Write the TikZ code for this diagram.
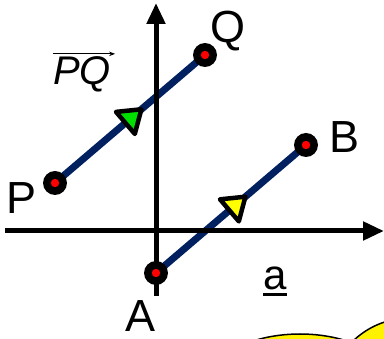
\documentclass[tikz,border=0pt]{standalone}
\usepackage{fontspec}
\setmainfont{Liberation Sans}
\usetikzlibrary{arrows.meta,backgrounds,calc}
\definecolor{navy}{HTML}{002060}
\definecolor{headgreen}{HTML}{00E000}
\definecolor{headyellow}{HTML}{FFFF00}
\tikzset{
  dot/.style={circle,fill=black,minimum size=24pt,inner sep=0pt,
    path picture={\fill[red] (path picture bounding box.center) circle (4.2pt);}},
  vec/.style={navy,line width=7pt},
  axis/.style={line width=5pt,-{Triangle[length=21pt,width=18pt]}},
  lbl/.style={inner sep=0pt,anchor=base,font=\fontsize{45}{45}\selectfont},
  headtri/.style={draw=black,line width=4.5pt,line join=round},
}
\begin{document}
\begin{tikzpicture}[x=1pt,y=-1pt]
\useasboundingbox (0,0) rectangle (384,339);
\clip (0,0) rectangle (384,339);
% bottom yellow shapes
\draw[fill=yellow,line width=1.5pt] (300,394) ellipse [x radius=100, y radius=60];
\draw[fill=yellow,line width=1.5pt] (410,400) circle (82);
% axes
\coordinate (xl) at (5,231);
\coordinate (xr) at (384,231);
\coordinate (yb) at (156,296);
\coordinate (yt) at (156,3);
\draw[axis] (xl) -- (xr);
\draw[axis] (yb) -- (yt);
% points
\node[dot] (P) at (55,183) {};
\node[dot] (Q) at (205,55) {};
\node[dot] (A) at (156,273) {};
\node[dot] (B) at (306,145) {};
\begin{scope}[on background layer]
\draw[vec] (P.center) -- (Q.center);
\draw[vec] (A.center) -- (B.center);
\end{scope}
% direction heads
\coordinate (m1) at ($(P.center)!0.51!(Q.center)$);
\coordinate (t1) at ($(m1)!13pt!(Q.center)$);
\coordinate (b1) at ($(m1)!-8pt!(Q.center)$);
\draw[headtri,fill=headgreen] (t1) -- ($(b1)!14.5pt!90:(m1)$) -- ($(b1)!14.5pt!-90:(m1)$) -- cycle;
\coordinate (m2) at ($(A.center)!0.53!(B.center)$);
\coordinate (t2) at ($(m2)!13pt!(B.center)$);
\coordinate (b2) at ($(m2)!-8pt!(B.center)$);
\draw[headtri,fill=headyellow] (t2) -- ($(b2)!14.5pt!90:(m2)$) -- ($(b2)!14.5pt!-90:(m2)$) -- cycle;
% labels
\node[lbl] (lQ) at (228,43) {Q};
\node[lbl] (lB) at (345,153) {B};
\node[lbl] (lP) at (22,214) {P};
\node[lbl] (lA) at (141,332) {A};
\node[lbl,font=\fontsize{40}{40}\selectfont\itshape] (lPQ) at (82,85) {PQ};
\draw[line width=0.9pt,-{Stealth[length=6pt,width=4.5pt]}] ([yshift=3pt]lPQ.north west) -- ([yshift=3pt,xshift=4pt]lPQ.north east);
\node[lbl,font=\fontsize{42}{42}\selectfont] (la) at (275,290) {a};
\draw[line width=3pt] ([yshift=-5pt]la.base west) -- ([yshift=-5pt]la.base east);
\end{tikzpicture}
\end{document}
